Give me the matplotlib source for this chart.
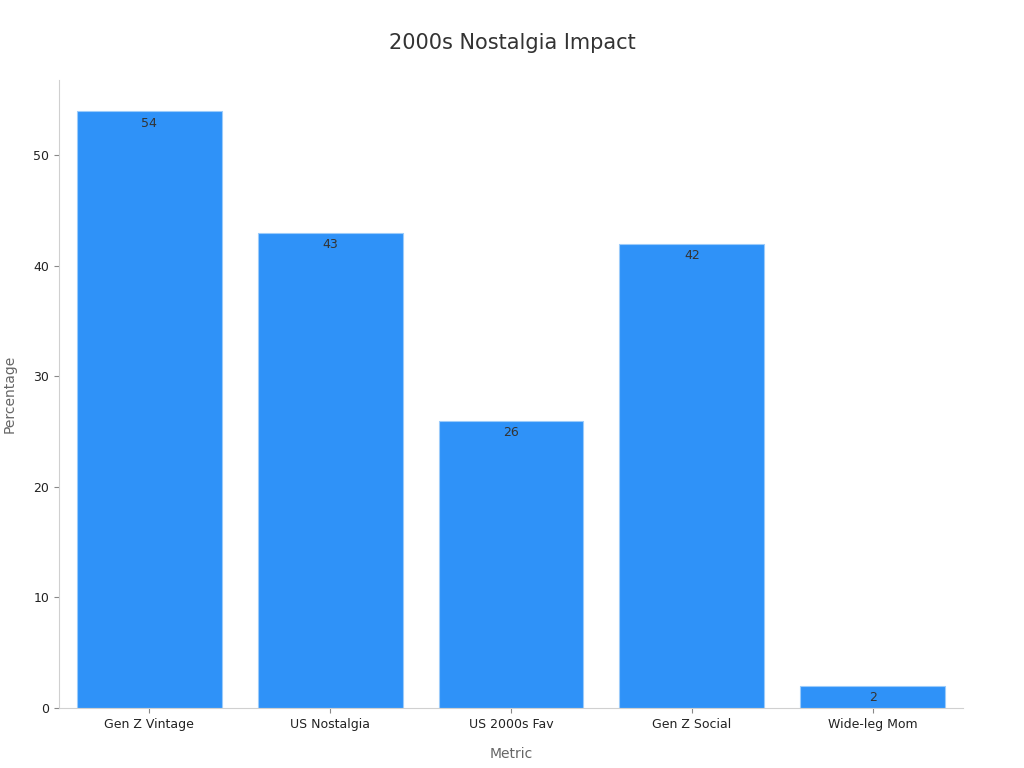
import matplotlib
matplotlib.use("Agg")
import matplotlib.pyplot as plt

categories = ["Gen Z Vintage", "US Nostalgia", "US 2000s Fav", "Gen Z Social", "Wide-leg Mom"]
values = [54, 43, 26, 42, 2]

fig = plt.figure(figsize=(10.24, 7.68), dpi=100)
ax = fig.add_axes([59/1024, 60/768, (963-59)/1024, (708-80)/768])
bars = ax.bar(categories, values, width=0.8, color="#2F92F8", edgecolor="#9CCBFA", linewidth=0.8)
for b, v in zip(bars, values):
    ax.annotate(str(v), (b.get_x() + b.get_width()/2, v), xytext=(0, -4), textcoords="offset points",
                ha="center", va="top", fontsize=9, color="#333333")
ax.set_xlim(-0.5, 4.5)
ax.set_ylim(0, 56.8)
ax.set_yticks([0, 10, 20, 30, 40, 50])
for s in ["top", "right"]:
    ax.spines[s].set_visible(False)
for s in ["left", "bottom"]:
    ax.spines[s].set_color("#d0d0d0")
ax.tick_params(colors="#222222", labelsize=9)
ax.tick_params(axis="both", color="#888888")
ax.set_xlabel("Metric", fontsize=10, color="#666666", labelpad=12)
ax.set_ylabel("Percentage", fontsize=10, color="#666666", labelpad=12)
fig.suptitle("2000s Nostalgia Impact", y=0.957, fontsize=15, color="#333333")
fig.savefig("out.png", dpi=100)
